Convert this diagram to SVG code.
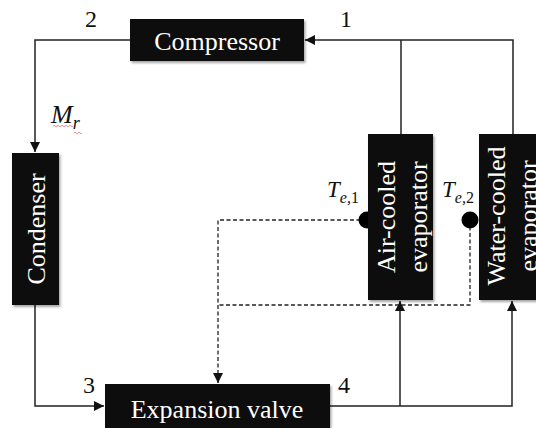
<svg xmlns="http://www.w3.org/2000/svg" width="536" height="428" viewBox="0 0 536 428">
<style>
.box{fill:#0d0d0d;filter:url(#sh)}
.lbl{fill:#fff;font-family:"Liberation Serif","Times New Roman",serif;font-size:26px;text-anchor:middle}
.num{fill:#111;font-family:"Liberation Serif","Times New Roman",serif;font-size:24px}
.var{fill:#111;font-family:"Liberation Serif","Times New Roman",serif;font-style:italic}
.ln{fill:none;stroke:#222;stroke-width:1.5}
.dash{fill:none;stroke:#222;stroke-width:1.3;stroke-dasharray:4,2.5}
</style>
<defs>
<filter id="sh" x="-20%" y="-20%" width="140%" height="140%">
<feDropShadow dx="1.5" dy="2" stdDeviation="1.2" flood-color="#000" flood-opacity="0.35"/>
</filter>
<marker id="ah" viewBox="0 0 10 10" refX="10" refY="5" markerWidth="10" markerHeight="10" markerUnits="userSpaceOnUse" orient="auto">
<path d="M0,0 L10,5 L0,10 Z" fill="#111"/>
</marker>
</defs>
<rect width="536" height="428" fill="#fff"/>
<g id="connectors">
<path class="ln" d="M130,40 H35 V152" marker-end="url(#ah)"/>
<path class="ln" d="M513,134 V40 H305" marker-end="url(#ah)"/>
<path class="ln" d="M401,134 V40"/>
<path class="ln" d="M35,305 V406 H104" marker-end="url(#ah)"/>
<path class="ln" d="M330,406 H512 V301" marker-end="url(#ah)"/>
<path class="ln" d="M400,406 V301" marker-end="url(#ah)"/>
<path class="dash" d="M367,220 H218 V383"/>
<path class="ln" d="M218,374 V383" marker-end="url(#ah)"/>
<path class="dash" d="M470,220 V305 H218"/>
<circle cx="367" cy="220" r="8.5" fill="#000"/>
<circle cx="470" cy="220" r="8.5" fill="#000"/>
</g>
<g id="compressor">
<rect class="box" x="130" y="19" width="174" height="42"/>
<text class="lbl" x="217" y="50">Compressor</text>
</g>
<g id="condenser">
<rect class="box" x="12" y="153" width="47" height="152"/>
<text class="lbl" transform="translate(45,229) rotate(-90)">Condenser</text>
</g>
<g id="air-cooled-evaporator">
<rect class="box" x="368" y="134" width="65" height="166"/>
<text class="lbl" transform="translate(395,217) rotate(-90)">Air-cooled</text>
<text class="lbl" transform="translate(427,217) rotate(-90)">evaporator</text>
</g>
<g id="water-cooled-evaporator">
<rect class="box" x="479" y="134" width="66" height="166"/>
<text class="lbl" transform="translate(505,216) rotate(-90)">Water-cooled</text>
<text class="lbl" transform="translate(537,216) rotate(-90)">evaporator</text>
</g>
<g id="expansion-valve">
<rect class="box" x="105" y="384" width="225" height="44"/>
<text class="lbl" x="217" y="418">Expansion valve</text>
</g>
<g id="labels">
<text class="num" x="85" y="27">2</text>
<text class="num" x="340" y="27">1</text>
<text class="num" x="83" y="393">3</text>
<text class="num" x="338" y="393">4</text>
<text class="var" x="51" y="123" font-size="26">M<tspan font-size="18" dy="6">r</tspan></text>
<path d="M53,126 q1,-1.5 2,0 t2,0 t2,0 t2,0 t2,0 t2,0 t2,0 t2,0 t2,0 t2,0 M74,133 q1,-1.5 2,0 t2,0 t2,0 t2,0" fill="none" stroke="#e06060" stroke-width="0.7"/>
<text class="var" x="327" y="197" font-size="23">T<tspan font-size="16" dy="6">e,</tspan><tspan font-size="16" font-style="normal">1</tspan></text>
<text class="var" x="442" y="197" font-size="23">T<tspan font-size="16" dy="6">e,</tspan><tspan font-size="16" font-style="normal">2</tspan></text>
</g>
</svg>
